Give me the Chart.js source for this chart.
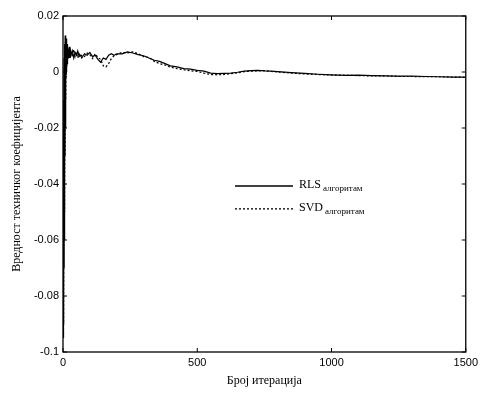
<!DOCTYPE html>
<html>
<head>
<meta charset="utf-8">
<script src="https://cdn.jsdelivr.net/npm/chart.js@4"></script>
<style>
  html, body { margin: 0; padding: 0; background: #fff; }
  #wrap { width: 482px; height: 400px; position: relative; }
</style>
</head>
<body>
<div id="wrap"><canvas id="c"></canvas></div>
<script>
// Број итерација (x) и вредности коефицијента за оба алгоритма

const iterations = [
  1, 2, 3, 4, 5, 6, 7, 8, 9, 10, 11, 12, 13, 14, 15, 16, 17, 18, 19, 20,
  22, 24, 26, 28, 30, 35, 40, 45, 50, 55, 60, 65, 70,
  80, 90, 100, 110, 120, 130, 140, 150, 160, 170, 180, 190, 200,
  220, 240, 260, 280, 300, 320, 340, 360, 380, 400,
  425, 450, 475, 500, 525, 550, 575, 600, 625, 650, 675, 700, 725, 750, 775, 800,
  850, 900, 950, 1000, 1050, 1100, 1150, 1200, 1250, 1300, 1350, 1400, 1450, 1500
];

const rlsValues = [
  -0.09, -0.02, -0.085, 0.005, -0.06, 0.01, -0.04, 0.013, -0.02, 0.011,
  -0.005, 0.012, 0.0, 0.009, 0.003, 0.01, 0.004, 0.009, 0.005, 0.008,
  0.006, 0.009, 0.005, 0.008, 0.006, 0.0075, 0.005, 0.007, 0.006, 0.0075, 0.0055, 0.006, 0.005,
  0.0065, 0.006, 0.007, 0.0055, 0.006, 0.0045, 0.0035, 0.005, 0.0045, 0.006, 0.0065, 0.006, 0.0065,
  0.0065, 0.0072, 0.0068, 0.0062, 0.0058, 0.005, 0.0042, 0.0038, 0.003, 0.0022,
  0.0018, 0.0012, 0.001, 0.0006, 0.0003, -0.0004, -0.0006, -0.0005, -0.0004, -0.0001, 0.0003, 0.0005, 0.0006, 0.0004, 0.0003, 0.0001,
  -0.0002, -0.0005, -0.0008, -0.001, -0.0012, -0.0011, -0.0013, -0.0014, -0.0015, -0.0015, -0.0016, -0.0017, -0.0018, -0.0018
];

const svdValues = [
  -0.075, -0.095, -0.01, -0.07, 0.002, -0.05, 0.009, -0.03, 0.012, -0.01,
  0.01, -0.002, 0.011, 0.002, 0.008, 0.004, 0.009, 0.005, 0.0085, 0.006,
  0.008, 0.005, 0.0085, 0.006, 0.007, 0.006, 0.008, 0.0055, 0.007, 0.005, 0.0065, 0.0055, 0.006,
  0.0055, 0.0068, 0.0062, 0.0048, 0.0065, 0.0052, 0.0045, 0.0022, 0.0018, 0.003, 0.0048, 0.0058, 0.0062,
  0.007, 0.0068, 0.0072, 0.0065, 0.0055, 0.0052, 0.0038, 0.003, 0.0025, 0.0017,
  0.0012, 0.0008, 0.0004, 0.0002, -0.0004, -0.0009, -0.001, -0.0009, -0.0006, -0.0003, 0.0001, 0.0003, 0.0004, 0.0005, 0.0002, 0.0,
  -0.0004, -0.0007, -0.0009, -0.0011, -0.0011, -0.0013, -0.0014, -0.0014, -0.0016, -0.0016, -0.0017, -0.0017, -0.0018, -0.0019
];

const xTicks = [0, 500, 1000, 1500];
const xTickLabels = ['0', '500', '1000', '1500'];
const yTicks = [0.02, 0, -0.02, -0.04, -0.06, -0.08, -0.1];
const yTickLabels = ['0.02', '0', '-0.02', '-0.04', '-0.06', '-0.08', '-0.1'];
const legendNames = ['RLS', 'SVD'];
const legendSuffix = 'алгоритам';

const toPoints = vals => iterations.map((x, i) => ({ x, y: vals[i] }));

/** Оквир графика са унутрашњим подеоцима (MATLAB стил) */
const boxPlugin = {
  id: 'box',
  afterDatasetsDraw(chart) {
    const { ctx, chartArea: a, scales } = chart;
    ctx.save();
    ctx.strokeStyle = '#000';
    ctx.lineWidth = 1.3;
    ctx.strokeRect(a.left, a.top, a.right - a.left, a.bottom - a.top);
    ctx.lineWidth = 1;
    ctx.beginPath();
    xTicks.forEach(v => {
      const px = scales.x.getPixelForValue(v);
      ctx.moveTo(px, a.bottom); ctx.lineTo(px, a.bottom - 4);
      ctx.moveTo(px, a.top);    ctx.lineTo(px, a.top + 4);
    });
    yTicks.forEach(v => {
      const py = scales.y.getPixelForValue(v);
      ctx.moveTo(a.left, py);  ctx.lineTo(a.left + 4, py);
      ctx.moveTo(a.right, py); ctx.lineTo(a.right - 4, py);
    });
    ctx.stroke();
    ctx.restore();
  }
};

/** Легенда унутар области графика */
const legendPlugin = {
  id: 'innerLegend',
  afterDraw(chart) {
    const { ctx, chartArea: a } = chart;
    const w = a.right - a.left, h = a.bottom - a.top;
    const x0 = a.left + w * 0.427;
    const x1 = x0 + 58;
    const rows = [a.top + h * 0.506, a.top + h * 0.574];
    ctx.save();
    ctx.strokeStyle = '#000';
    ctx.fillStyle = '#000';
    ctx.textBaseline = 'middle';
    legendNames.forEach((name, i) => {
      const y = rows[i];
      ctx.lineWidth = 1.3;
      ctx.setLineDash(i === 0 ? [] : [2, 2]);
      ctx.beginPath(); ctx.moveTo(x0, y); ctx.lineTo(x1, y); ctx.stroke();
      ctx.setLineDash([]);
      ctx.font = '12px "Liberation Serif", serif';
      ctx.fillText(name, x1 + 6, y - 1);
      const nw = ctx.measureText(name).width;
      ctx.font = '9px "Liberation Serif", serif';
      ctx.fillText(legendSuffix, x1 + 8 + nw, y + 3);
    });
    ctx.restore();
  }
};

new Chart(document.getElementById('c'), {
  type: 'line',
  data: {
    datasets: [
      {
        label: 'RLS алгоритам',
        data: toPoints(rlsValues),
        borderColor: '#000',
        borderWidth: 1.2,
        pointRadius: 0,
        tension: 0,
      },
      {
        label: 'SVD алгоритам',
        data: toPoints(svdValues),
        borderColor: '#000',
        borderWidth: 1.2,
        borderDash: [2, 2],
        pointRadius: 0,
        tension: 0,
      },
    ],
  },
  options: {
    responsive: true,
    maintainAspectRatio: false,
    animation: false,
    layout: { padding: { left: 6, right: 11, top: 16, bottom: 8 } },
    plugins: {
      legend: { display: false },
      tooltip: { enabled: false },
    },
    scales: {
      x: {
        type: 'linear',
        min: 0,
        max: 1500,
        afterBuildTicks: s => { s.ticks = xTicks.map(v => ({ value: v })); },
        afterFit: s => { s.height = 40; },
        ticks: {
          color: '#000',
          padding: 4,
          font: { family: '"Liberation Sans", Arial, sans-serif', size: 11 },
          callback: (v, i) => xTickLabels[i],
        },
        grid: { display: false, tickLength: 0 },
        border: { display: false },
        title: {
          display: true,
          text: 'Број итерација',
          color: '#000',
          padding: { top: 4 },
          font: { family: '"Liberation Serif", serif', size: 12 },
        },
      },
      y: {
        type: 'linear',
        min: -0.1,
        max: 0.02,
        afterBuildTicks: s => { s.ticks = yTicks.map(v => ({ value: v })); },
        afterFit: s => { s.width = 57; },
        ticks: {
          color: '#000',
          padding: 4,
          font: { family: '"Liberation Sans", Arial, sans-serif', size: 11 },
          callback: (v, i) => yTickLabels[i],
        },
        grid: { display: false, tickLength: 0 },
        border: { display: false },
        title: {
          display: true,
          text: 'Вредност техничког коефицијента',
          color: '#000',
          padding: { bottom: 2 },
          font: { family: '"Liberation Serif", serif', size: 12 },
        },
      },
    },
  },
  plugins: [boxPlugin, legendPlugin],
});
</script>
</body>
</html>
